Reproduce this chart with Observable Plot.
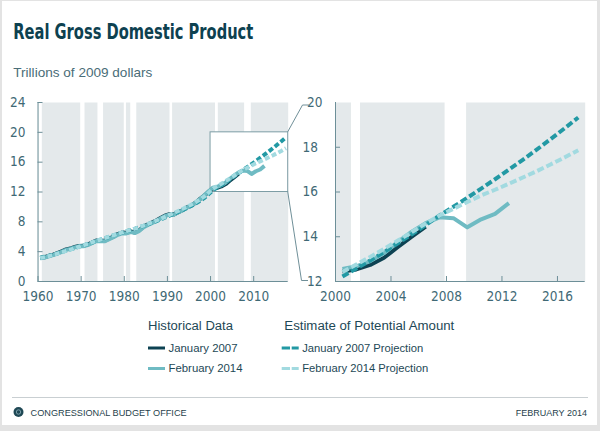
<!DOCTYPE html>
<html>
<head>
<meta charset="utf-8">
<script src="https://cdn.jsdelivr.net/npm/d3@7"></script>
<script src="https://cdn.jsdelivr.net/npm/@observablehq/plot@0.6"></script>
<style>
  html, body { margin: 0; padding: 0; width: 600px; height: 431px; background: #e3e3e3; overflow: hidden; }
  #card { position: absolute; left: 2px; top: 1px; width: 595px; height: 424px; background: #fff; }
  #left { position: absolute; left: 0; top: 90px; }
  #right { position: absolute; left: 300px; top: 90px; }
  #overlay { position: absolute; left: 0; top: 0; pointer-events: none; }
</style>
</head>
<body>
<div id="card"></div>
<div id="left"></div>
<div id="right"></div>
<svg id="overlay" width="600" height="431"></svg>
<script>
// ---------------- DATA ----------------
const startYear = 1960;
// Historical data, Feb 2014 (trillions of 2009 dollars), 1960-2012
const histFeb2014 = [
  3.11, 3.19, 3.38, 3.53, 3.73, 3.98, 4.24, 4.36, 4.57, 4.71,
  4.72, 4.88, 5.13, 5.42, 5.40, 5.39, 5.68, 5.94, 6.27, 6.47,
  6.45, 6.62, 6.49, 6.79, 7.29, 7.59, 7.86, 8.13, 8.47, 8.79,
  8.96, 8.95, 9.27, 9.52, 9.91, 10.17, 10.56, 11.03, 11.53, 12.07,
  12.56, 12.68, 12.91, 13.27, 13.77, 14.23, 14.61, 14.87, 14.83, 14.42,
  14.78, 15.02, 15.50
];
// Historical data, Jan 2007, 1960-2006
const histJan2007 = [
  3.17, 3.25, 3.44, 3.59, 3.80, 4.05, 4.31, 4.42, 4.63, 4.77,
  4.78, 4.94, 5.21, 5.50, 5.48, 5.47, 5.76, 6.02, 6.36, 6.56,
  6.54, 6.71, 6.58, 6.88, 7.37, 7.68, 7.94, 8.21, 8.55, 8.85,
  9.02, 9.00, 9.30, 9.55, 9.94, 10.18, 10.56, 11.04, 11.50, 12.01,
  12.45, 12.54, 12.74, 13.06, 13.54, 14.00, 14.45
];
// Estimate of potential amount, Feb 2014 projection, 1960-2017
const potFeb2014 = [
  3.14, 3.27, 3.41, 3.57, 3.74, 3.92, 4.10, 4.28, 4.47, 4.66,
  4.85, 5.04, 5.24, 5.44, 5.63, 5.82, 6.01, 6.20, 6.39, 6.58,
  6.75, 6.93, 7.10, 7.30, 7.50, 7.72, 7.95, 8.18, 8.42, 8.67,
  8.93, 9.19, 9.45, 9.72, 10.00, 10.30, 10.62, 10.98, 11.38, 11.88,
  12.42, 12.76, 13.10, 13.46, 13.83, 14.21, 14.59, 14.95, 15.25, 15.55,
  15.85, 16.10, 16.37, 16.65, 16.93, 17.23, 17.54, 17.87
];
// Estimate of potential amount, Jan 2007 projection, 1960-2017
const potJan2007 = [
  3.18, 3.31, 3.45, 3.60, 3.77, 3.95, 4.13, 4.31, 4.49, 4.67,
  4.85, 5.03, 5.22, 5.42, 5.61, 5.80, 5.99, 6.18, 6.37, 6.56,
  6.74, 6.91, 7.08, 7.27, 7.46, 7.67, 7.89, 8.11, 8.34, 8.58,
  8.83, 9.08, 9.33, 9.58, 9.85, 10.14, 10.45, 10.80, 11.18, 11.68,
  12.22, 12.58, 12.94, 13.32, 13.71, 14.11, 14.52, 14.95, 15.34, 15.74,
  16.15, 16.57, 17.00, 17.44, 17.89, 18.36, 18.84, 19.33
];
// Recessions (unshaded periods)
const recessionStart = [1960.25, 1969.9, 1973.9, 1980.0, 1981.5, 1990.6, 2001.15, 2007.9];
const recessionEnd   = [1961.0, 1970.9, 1975.2, 1980.5, 1982.9, 1991.2, 2001.8, 2009.45];
// Axes
const leftXDomain = [1960, 2018];
const leftYDomain = [0, 24];
const leftXTicks = [1960, 1970, 1980, 1990, 2000, 2010];
const leftYTicks = [0, 4, 8, 12, 16, 20, 24];
const rightXDomain = [2000, 2018];
const rightYDomain = [12, 20];
const rightXTicks = [2000, 2004, 2008, 2012, 2016];
const rightYTicksInner = [14, 16, 18];
const rightYTicksEnds = [12, 20];
// Magnified window
const zoomX = [2000, 2018];
const zoomY = [12, 20];

// ---------------- STYLE ----------------
const C = {
  shade: "#e4e9eb",
  axis: "#6d8f98",
  label: "#3f6975",
  darkSolid: "#0d4252",
  medSolid: "#6fbbc3",
  darkDash: "#2299a4",
  lightDash: "#a2dae0",
  title: "#0d4150",
  text: "#1d4856"
};
const tickFont = '"Liberation Sans Narrow","DejaVu Sans Condensed","Liberation Sans",sans-serif';

const rows = (arr, series) => arr.map((v, i) => ({year: startYear + i, value: v, series}));
const dHistFeb = rows(histFeb2014, "Feb2014");
const dHistJan = rows(histJan2007, "Jan2007");
const dPotFeb = rows(potFeb2014, "Feb2014P");
const dPotJan = rows(potJan2007, "Jan2007P");
const recessions = recessionStart.map((s, i) => ({start: s, end: recessionEnd[i]}));

function lineMarks(filterFn, sw, dash) {
  const f = d => d.filter(filterFn);
  const common = {x: d => d.year + 0.5, y: "value", strokeWidth: sw, strokeLinejoin: "round", strokeLinecap: "butt"};
  return [
    Plot.line(f(dHistJan), {...common, stroke: C.darkSolid}),
    Plot.line(f(dHistFeb), {...common, stroke: C.medSolid}),
    Plot.line(f(dPotJan), {...common, stroke: C.darkDash, strokeDasharray: dash}),
    Plot.line(f(dPotFeb), {...common, stroke: C.lightDash, strokeDasharray: dash})
  ];
}

// ---------------- LEFT CHART ----------------
const LW = 300, LH = 220, LmL = 37.5, LmR = 12.3, mT = 12, mB = 29;
const lfw = LW - LmL - LmR, fh = LH - mT - mB;
const left = Plot.plot({
  width: LW, height: LH, marginLeft: LmL, marginRight: LmR, marginTop: mT, marginBottom: mB,
  style: {background: "transparent", fontFamily: tickFont, fontSize: "13.5px", color: C.label},
  x: {domain: leftXDomain, label: null},
  y: {domain: leftYDomain, label: null},
  marks: [
    Plot.frame({fill: C.shade, stroke: "none"}),
    Plot.rect(recessions, {x1: "start", x2: "end", fill: "white"}),
    Plot.rect([{x1: zoomX[0], x2: zoomX[1], y1: zoomY[0], y2: zoomY[1]}],
      {x1: "x1", x2: "x2", y1: "y1", y2: "y2", fill: "white", stroke: "#7d9da5", strokeWidth: 1}),
    Plot.tickY(leftYTicks, {y: d => d, stroke: C.axis, insetRight: lfw - 5}),
    Plot.tickX(leftXTicks, {x: d => d, stroke: C.axis, insetTop: fh - 5}),
    Plot.ruleX([leftXDomain[0]], {stroke: C.axis}),
    Plot.ruleY([leftYDomain[0]], {stroke: C.axis}),
    Plot.axisY({ticks: leftYTicks, tickSize: 0, tickPadding: 12.5, tickFormat: d => String(d), label: null}),
    Plot.axisX({ticks: leftXTicks, tickSize: 0, tickPadding: 9.5, tickFormat: d => String(d), label: null}),
    ...lineMarks(() => true, 4, "5,2.5")
  ]
});
document.getElementById("left").append(left);

// ---------------- RIGHT CHART ----------------
const RW = 300, RmL = 35, RmR = 15.3;
const rfw = RW - RmL - RmR;
const right = Plot.plot({
  width: RW, height: LH, marginLeft: RmL, marginRight: RmR, marginTop: mT, marginBottom: mB,
  style: {background: "transparent", fontFamily: tickFont, fontSize: "13.5px", color: C.label},
  x: {domain: rightXDomain, label: null},
  y: {domain: rightYDomain, label: null},
  marks: [
    Plot.frame({fill: C.shade, stroke: "none"}),
    Plot.rect(recessions.filter(r => r.end > rightXDomain[0]), {x1: "start", x2: "end", fill: "white"}),
    Plot.tickY(rightYTicksInner, {y: d => d, stroke: C.axis, insetRight: rfw - 5}),
    Plot.tickX(rightXTicks.slice(1), {x: d => d, stroke: C.axis, insetTop: fh - 5}),
    Plot.ruleX([rightXDomain[0]], {stroke: C.axis}),
    Plot.ruleY([rightYDomain[0]], {stroke: C.axis}),
    Plot.axisY({ticks: rightYTicksInner, tickSize: 0, tickPadding: 17.5, tickFormat: d => String(d), label: null}),
    Plot.axisY({ticks: rightYTicksEnds, tickSize: 0, tickPadding: 13, tickFormat: d => String(d), label: null}),
    Plot.axisX({ticks: rightXTicks, tickSize: 0, tickPadding: 9.5, tickFormat: d => String(d), label: null}),
    ...lineMarks(d => d.year >= rightXDomain[0], 4, "7,3")
  ]
});
document.getElementById("right").append(right);

// ---------------- OVERLAY: connectors, titles, legend, footer ----------------
const svg = d3.select("#overlay");
const lx = left.scale("x"), ly = left.scale("y"), rx = right.scale("x"), ry = right.scale("y");
const boxR = lx.apply(zoomX[1]);
const boxTop = ly.apply(zoomY[1]) + 90, boxBot = ly.apply(zoomY[0]) + 90;
const axR = rx.apply(rightXDomain[0]) + 300;
const topY = ry.apply(zoomY[1]) + 90, botY = ry.apply(zoomY[0]) + 90;
svg.append("path")
  .attr("d", `M${boxR},${boxTop}L${axR - 32.5},${topY + 3}L${axR - 26},${topY + 3}`)
  .attr("fill", "none").attr("stroke", "#6f8f98").attr("stroke-width", 1);
svg.append("path")
  .attr("d", `M${boxR},${boxBot}L${axR - 33.5},${botY - 0.5}L${axR - 27},${botY - 0.5}`)
  .attr("fill", "none").attr("stroke", "#6f8f98").attr("stroke-width", 1);

// Title & subtitle
svg.append("text").attr("x", 13.3).attr("y", 38.7)
  .attr("textLength", 240).attr("lengthAdjust", "spacingAndGlyphs")
  .style("font", 'bold 22px "Liberation Sans Narrow","DejaVu Sans Condensed",sans-serif')
  .attr("fill", C.title).text("Real Gross Domestic Product");
svg.append("text").attr("x", 13.3).attr("y", 76.5)
  .attr("textLength", 139).attr("lengthAdjust", "spacingAndGlyphs")
  .style("font", '13.5px "Liberation Sans",sans-serif')
  .attr("fill", "#4a6d78").text("Trillions of 2009 dollars");

// Legend
const legFont = '"Liberation Sans",sans-serif';
const legendHeads = [{x: 148, t: "Historical Data", w: 85}, {x: 284.3, t: "Estimate of Potential Amount", w: 170}];
legendHeads.forEach(h => svg.append("text").attr("x", h.x).attr("y", 330)
  .attr("textLength", h.w).attr("lengthAdjust", "spacingAndGlyphs")
  .style("font", `12.5px ${legFont}`).attr("fill", C.text).text(h.t));
const legendItems = [
  {x: 148, y: 348, color: C.darkSolid, dash: null, t: "January 2007", w: 69},
  {x: 148, y: 368.5, color: C.medSolid, dash: null, t: "February 2014", w: 74},
  {x: 281.7, y: 348, color: C.darkDash, dash: "8.3,1.7", t: "January 2007 Projection", w: 121},
  {x: 281.7, y: 368.5, color: C.lightDash, dash: "8.3,1.7", t: "February 2014 Projection", w: 126}
];
legendItems.forEach(it => {
  svg.append("line").attr("x1", it.x).attr("x2", it.x + 17).attr("y1", it.y).attr("y2", it.y)
    .attr("stroke", it.color).attr("stroke-width", 3).attr("stroke-dasharray", it.dash);
  svg.append("text").attr("x", it.x + 20.5).attr("y", it.y + 3.8)
    .attr("textLength", it.w).attr("lengthAdjust", "spacingAndGlyphs")
    .style("font", `11.5px ${legFont}`).attr("fill", C.text).text(it.t);
});

// Footer
svg.append("line").attr("x1", 12).attr("x2", 588).attr("y1", 397.5).attr("y2", 397.5)
  .attr("stroke", "#c9cfd2").attr("stroke-width", 1);
svg.append("circle").attr("cx", 18.5).attr("cy", 412).attr("r", 5).attr("fill", "#1f4855");
svg.append("circle").attr("cx", 18.5).attr("cy", 412).attr("r", 2.2).attr("fill", "none")
  .attr("stroke", "#8fb3bd").attr("stroke-width", 0.8);
svg.append("text").attr("x", 30.6).attr("y", 415.5)
  .attr("textLength", 156).attr("lengthAdjust", "spacingAndGlyphs")
  .style("font", `9px ${legFont}`).attr("fill", "#1f3f4c").text("CONGRESSIONAL BUDGET OFFICE");
svg.append("text").attr("x", 587).attr("y", 415.5).attr("text-anchor", "end")
  .style("font", `9px ${legFont}`).attr("fill", "#1f3f4c").text("FEBRUARY 2014");
</script>
</body>
</html>
